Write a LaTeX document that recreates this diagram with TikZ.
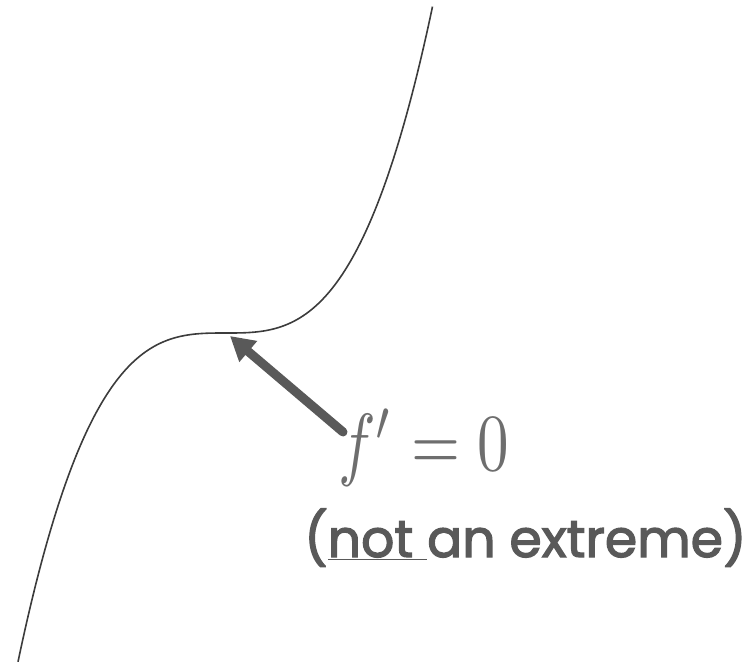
\documentclass[tikz,border=0pt]{standalone}
\usepackage{graphicx}
\usepackage{fontspec}
\usetikzlibrary{arrows.meta}
\newfontfamily\popfont[FakeBold=2.5]{Poppins}
\definecolor{curvegray}{RGB}{60,60,60}
\definecolor{arrowgray}{RGB}{89,89,89}
\definecolor{mathgray}{RGB}{110,110,110}
\tikzset{
  curveline/.style={draw=curvegray, line width=1.6pt},
  pointer/.style={draw=arrowgray, line width=9pt, line cap=round, -{Triangle[length=24pt,width=26pt]}},
  mathlabel/.style={anchor=base west, inner sep=0pt, text=mathgray},
  notelabel/.style={anchor=base west, inner sep=0pt, text=arrowgray, font=\popfont\fontsize{52}{60}\selectfont},
}
\begin{document}
\begin{tikzpicture}[x=1pt,y=-1pt]
\useasboundingbox (0,0) rectangle (754,662);
\draw[curveline] plot[domain=18:432.5, samples=200, smooth] (\x, {333 - 36.8*((\x-225.5)/100)^3});
\coordinate (flat) at (230,336);
\coordinate (tail) at (343,432);
\node[mathlabel] (eq) at (338,470) {\scalebox{6.3}[8.1]{$f'=0$}};
\node[notelabel] (note) at (304,557) {(\underline{not }an extreme)};
\draw[pointer] (tail) -- (flat);
\end{tikzpicture}
\end{document}
